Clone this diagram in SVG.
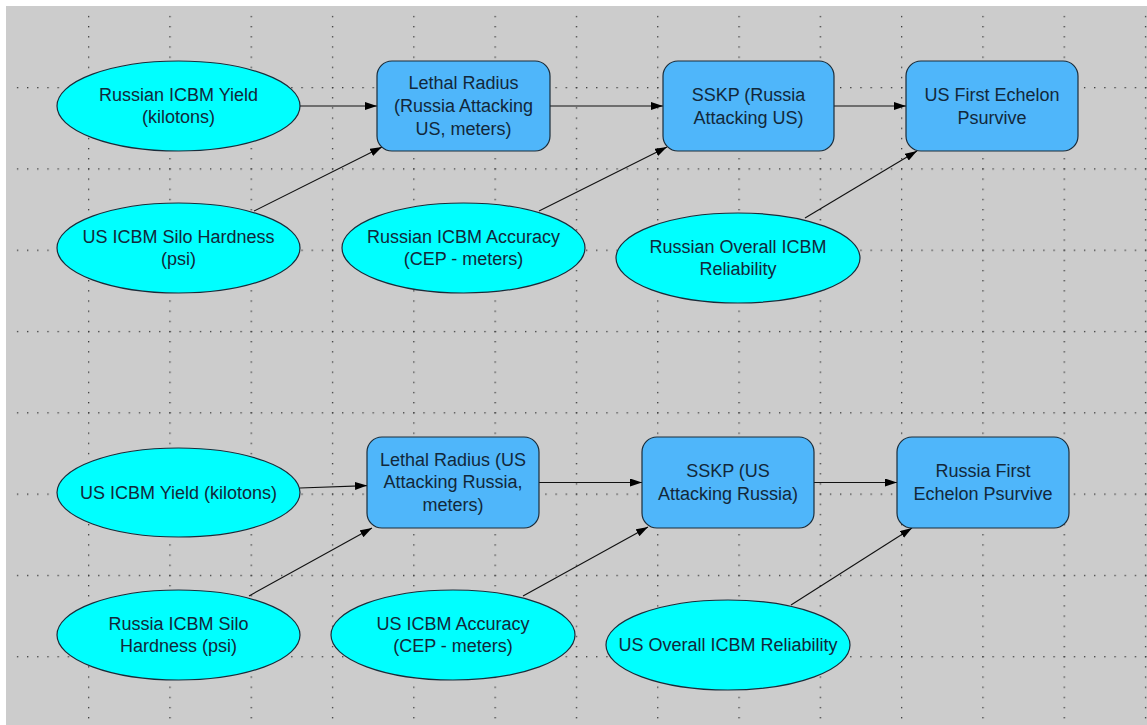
<svg xmlns="http://www.w3.org/2000/svg" width="1147" height="725" viewBox="0 0 1147 725">
<defs>
<style>
.ell{fill:#00ffff;stroke:#1a2c3a;stroke-width:1.2}
.box{fill:#4fb6fa;stroke:#1a2c3a;stroke-width:1.2}
.lbl{font-family:"Liberation Sans",Arial,sans-serif;font-size:18px;fill:#12283a;text-anchor:middle}
.con{stroke:#111;stroke-width:1.1;fill:none;marker-end:url(#arr)}
</style>
<marker id="arr" markerUnits="userSpaceOnUse" markerWidth="13" markerHeight="9" refX="12" refY="4" orient="auto">
<path d="M0,0 L12,4 L0,8 Z" fill="#000"/>
</marker>
<pattern id="hdots" patternUnits="userSpaceOnUse" x="6.7" y="5.7" width="10.1625" height="81.3">
<rect x="0" y="0" width="1.3" height="1.3" fill="#3a3a3a"/>
</pattern>
<pattern id="vdots" patternUnits="userSpaceOnUse" x="6.7" y="5.7" width="81.3" height="10.1625">
<rect x="0" y="0" width="1.3" height="1.3" fill="#3a3a3a"/>
</pattern>
</defs>
<rect x="0" y="0" width="1147" height="725" fill="#ffffff"/>
<rect x="6" y="6" width="1141" height="719" fill="#cccccc"/>
<g id="grid">
<rect x="10" y="10" width="1137" height="715" fill="url(#hdots)"/>
<rect x="10" y="10" width="1137" height="715" fill="url(#vdots)"/>
</g>
<g id="connectors">
<path class="con" d="M300,106 L377,106"/>
<path class="con" d="M254,211 L382,147"/>
<path class="con" d="M550,106 L663,106"/>
<path class="con" d="M539,211 L667,147"/>
<path class="con" d="M834,106 L906,106"/>
<path class="con" d="M805,218 L917,151"/>
<path class="con" d="M300,488 L367,485.6"/>
<path class="con" d="M249,596 L372,528"/>
<path class="con" d="M539,482.5 L642,482.5"/>
<path class="con" d="M523,596 L648,527"/>
<path class="con" d="M814,482.5 L897,482.5"/>
<path class="con" d="M791,605 L912,528"/>
</g>
<g id="n1"><ellipse class="ell" cx="178.5" cy="106" rx="121.5" ry="45"/><text class="lbl" x="178.5" y="101">Russian ICBM Yield</text><text class="lbl" x="178.5" y="123">(kilotons)</text></g>
<g id="n2"><ellipse class="ell" cx="178.5" cy="248" rx="121.5" ry="45"/><text class="lbl" x="178.5" y="243">US ICBM Silo Hardness</text><text class="lbl" x="178.5" y="265">(psi)</text></g>
<g id="n3"><ellipse class="ell" cx="463.5" cy="248" rx="121.5" ry="45"/><text class="lbl" x="463.5" y="243">Russian ICBM Accuracy</text><text class="lbl" x="463.5" y="265">(CEP - meters)</text></g>
<g id="n4"><ellipse class="ell" cx="738" cy="258" rx="122" ry="45"/><text class="lbl" x="738" y="253">Russian Overall ICBM</text><text class="lbl" x="738" y="275">Reliability</text></g>
<g id="n5"><rect class="box" x="377" y="61" width="173" height="90" rx="15" ry="15"/><text class="lbl" x="463.5" y="89">Lethal Radius</text><text class="lbl" x="463.5" y="112">(Russia Attacking</text><text class="lbl" x="463.5" y="135">US, meters)</text></g>
<g id="n6"><rect class="box" x="663" y="61" width="171" height="90" rx="15" ry="15"/><text class="lbl" x="748.5" y="101">SSKP (Russia</text><text class="lbl" x="748.5" y="124">Attacking US)</text></g>
<g id="n7"><rect class="box" x="906" y="61" width="172" height="90" rx="15" ry="15"/><text class="lbl" x="992" y="101">US First Echelon</text><text class="lbl" x="992" y="124">Psurvive</text></g>
<g id="n8"><ellipse class="ell" cx="178.5" cy="492.5" rx="121.5" ry="44.5"/><text class="lbl" x="178.5" y="499">US ICBM Yield (kilotons)</text></g>
<g id="n9"><ellipse class="ell" cx="178.5" cy="635" rx="121.5" ry="45"/><text class="lbl" x="178.5" y="630">Russia ICBM Silo</text><text class="lbl" x="178.5" y="652">Hardness (psi)</text></g>
<g id="n10"><rect class="box" x="367" y="437" width="172" height="91" rx="15" ry="15"/><text class="lbl" x="453" y="466">Lethal Radius (US</text><text class="lbl" x="453" y="488">Attacking Russia,</text><text class="lbl" x="453" y="511">meters)</text></g>
<g id="n11"><ellipse class="ell" cx="453" cy="635" rx="122" ry="45"/><text class="lbl" x="453" y="630">US ICBM Accuracy</text><text class="lbl" x="453" y="652">(CEP - meters)</text></g>
<g id="n12"><rect class="box" x="642" y="437" width="172" height="91" rx="15" ry="15"/><text class="lbl" x="728" y="477">SSKP (US</text><text class="lbl" x="728" y="500">Attacking Russia)</text></g>
<g id="n13"><rect class="box" x="897" y="437" width="172" height="91" rx="15" ry="15"/><text class="lbl" x="983" y="477">Russia First</text><text class="lbl" x="983" y="500">Echelon Psurvive</text></g>
<g id="n14"><ellipse class="ell" cx="728" cy="645" rx="122" ry="45"/><text class="lbl" x="728" y="651">US Overall ICBM Reliability</text></g>
</svg>
